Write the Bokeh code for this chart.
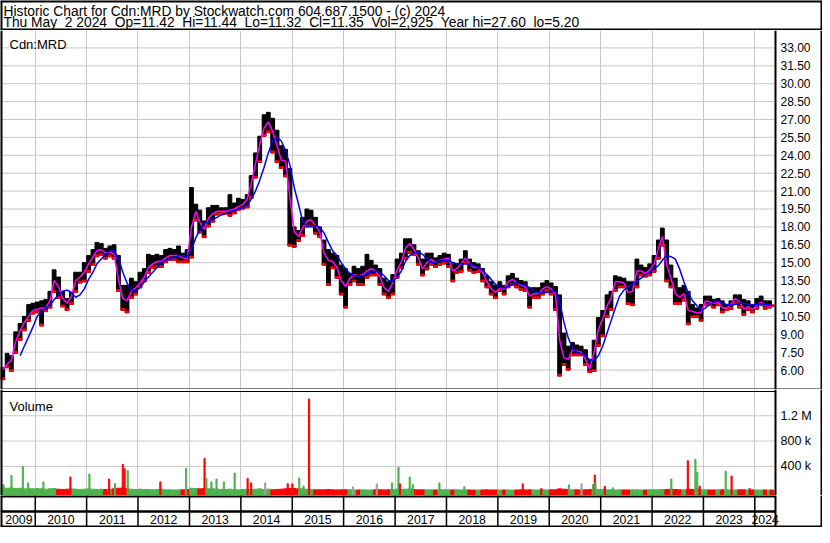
import pandas as pd
from bokeh.plotting import figure
from bokeh.models import Range1d, Span, Label, Grid, FixedTicker
from bokeh.layouts import column
from bokeh.embed import file_html
from bokeh.resources import INLINE
from bokeh.core.properties import value

# ---------------- data (monthly, May 2009 .. May 2024) ----------------
highs = [
    6.2, 7.4, 7.2, 9.2, 9.9, 10.5, 11.5, 11.6,
    11.7, 11.8, 11.9, 12.6, 14.4, 13.8, 12.6, 12.0, 12.5, 14.2, 14.2, 15.0,
    15.6, 16.1, 16.7, 16.6, 16.2, 16.4, 16.5, 15.6, 13.1, 13.1, 13.7, 13.4,
    14.2, 14.5, 15.7, 15.6, 15.7, 15.6, 16.1, 16.2, 16.1, 16.4, 15.8, 16.1,
    21.3, 19.9, 19.4, 18.5, 19.6, 19.8, 19.8, 19.6, 19.6, 20.7, 20.0, 20.4,
    20.3, 20.7, 22.3, 24.2, 25.6, 27.4, 27.6, 27.1, 26.1, 24.8, 24.5, 22.9,
    18.0, 17.7, 18.8, 19.5, 19.4, 18.8, 18.0, 16.9, 16.1, 15.8, 15.6, 14.8,
    14.5, 14.1, 14.7, 14.5, 14.7, 15.7, 15.2, 14.8, 14.5, 13.7, 13.4, 14.0,
    15.3, 15.8, 17.0, 17.0, 16.5, 16.0, 15.3, 15.8, 15.8, 15.4, 15.6, 15.8,
    15.7, 15.0, 14.9, 15.3, 16.0, 15.3, 15.0, 14.9, 14.5, 13.9, 13.4, 13.1,
    13.4, 13.1, 13.9, 14.1, 13.7, 13.5, 13.4, 12.9, 12.9, 12.9, 13.3, 13.5,
    13.3, 13.0, 12.3, 9.1, 8.0, 8.3, 8.1, 8.0, 7.7, 6.9, 8.5, 10.4,
    11.0, 12.3, 12.6, 13.9, 13.8, 13.7, 13.4, 13.4, 15.3, 14.8, 14.6, 14.9,
    15.6, 16.9, 17.9, 16.9, 14.8, 13.7, 12.9, 13.1, 12.6, 11.5, 11.2, 11.5,
    12.2, 12.2, 11.9, 12.0, 11.8, 11.5, 11.8, 12.3, 12.3, 11.9, 11.8, 11.5,
    12.0, 12.2, 11.8, 11.8, 11.44,
]
lows = [
    5.2, 6.2, 5.9, 7.4, 8.5, 9.3, 10.1, 10.7,
    10.8, 9.7, 10.9, 11.2, 12.5, 12.0, 11.3, 11.0, 11.5, 12.5, 13.3, 13.4,
    14.2, 14.8, 15.5, 15.6, 15.3, 15.5, 15.3, 12.6, 11.0, 10.8, 12.0, 12.3,
    12.9, 13.4, 14.1, 14.5, 14.6, 14.6, 15.0, 15.2, 15.2, 15.0, 15.0, 15.0,
    15.4, 18.5, 17.5, 17.1, 18.0, 18.4, 19.0, 19.1, 19.1, 18.9, 19.1, 19.4,
    19.5, 19.6, 20.4, 22.1, 23.4, 25.6, 25.9, 24.2, 23.4, 22.9, 22.2, 16.4,
    16.3, 16.8, 17.2, 18.0, 18.0, 17.4, 17.1, 14.8, 13.1, 14.5, 13.7, 12.3,
    11.2, 13.1, 13.4, 13.1, 13.1, 13.7, 13.9, 13.9, 13.1, 12.3, 12.0, 12.3,
    13.7, 14.5, 15.3, 15.8, 15.6, 14.8, 13.9, 14.4, 14.8, 14.6, 14.8, 14.9,
    14.6, 13.4, 14.1, 14.2, 14.9, 14.3, 14.1, 14.2, 13.4, 12.9, 12.3, 12.0,
    12.6, 12.3, 12.9, 13.1, 12.9, 12.7, 12.6, 11.2, 12.0, 12.0, 12.3, 12.6,
    12.3, 11.0, 5.5, 6.4, 6.0, 7.2, 7.2, 7.2, 6.4, 5.8, 5.9, 8.0,
    8.8, 10.4, 11.0, 12.6, 12.9, 12.9, 11.5, 11.4, 12.9, 13.9, 13.8, 13.9,
    14.2, 15.3, 16.4, 13.4, 12.9, 11.5, 11.5, 11.8, 9.8, 10.4, 10.4, 10.1,
    11.4, 11.4, 11.2, 11.4, 10.8, 11.0, 11.1, 11.5, 11.2, 10.6, 11.0, 10.8,
    11.1, 11.4, 11.1, 11.2, 11.32,
]
ma_short = [
    6.0, 6.5, 6.8, 8.4, 9.3, 10.0, 10.5, 11.0,
    11.1, 11.2, 11.2, 11.8, 13.5, 13.0, 12.0, 11.6, 12.2, 13.5, 13.8, 14.2,
    14.9, 15.5, 16.0, 16.1, 15.8, 15.9, 15.7, 13.6, 12.0, 11.8, 12.6, 12.9,
    13.3, 13.8, 14.6, 14.9, 15.1, 15.1, 15.4, 15.6, 15.6, 15.6, 15.4, 15.3,
    18.0, 19.3, 18.4, 17.8, 18.7, 19.1, 19.3, 19.3, 19.3, 19.4, 19.5, 19.7,
    19.9, 20.3, 21.6, 23.3, 24.9, 26.3, 26.8, 26.0, 24.8, 23.6, 23.5, 20.5,
    17.6, 17.2, 17.9, 18.5, 18.6, 18.1, 17.6, 15.8, 15.2, 15.1, 14.6, 13.5,
    13.0, 13.7, 14.0, 13.9, 14.0, 14.3, 14.5, 14.3, 13.8, 12.9, 12.6, 13.3,
    14.4, 15.1, 16.2, 16.6, 16.1, 15.4, 14.5, 15.0, 15.3, 15.0, 15.2, 15.3,
    15.4, 14.3, 14.5, 14.9, 15.4, 14.9, 14.6, 14.6, 14.2, 13.4, 12.8, 12.5,
    12.9, 12.8, 13.4, 13.6, 13.3, 13.1, 13.0, 12.2, 12.4, 12.4, 12.8, 13.0,
    12.8, 12.3, 8.5, 7.0, 6.9, 7.7, 7.6, 7.5, 6.9, 6.1, 7.5, 9.4,
    10.3, 11.4, 12.0, 13.4, 13.4, 13.3, 12.5, 12.6, 14.3, 14.3, 14.1, 14.4,
    14.9, 16.2, 17.2, 14.8, 13.7, 12.4, 12.1, 12.4, 11.0, 10.9, 10.8, 10.8,
    11.8, 11.7, 11.6, 11.7, 11.2, 11.2, 11.5, 12.0, 11.7, 11.1, 11.3, 11.1,
    11.4, 11.7, 11.4, 11.4, 11.38,
]
NA = float("nan")
ma_long = [
    NA, NA, NA, NA, 7.2, 8.0, 8.8, 9.6,
    10.5, 10.9, 11.2, 11.4, 11.9, 12.3, 12.6, 12.7, 12.5, 12.1, 12.3, 12.8,
    13.6, 14.2, 14.9, 15.3, 15.7, 16.0, 16.0, 15.4, 14.2, 13.3, 12.7, 12.6,
    12.9, 13.4, 13.8, 14.2, 14.6, 15.0, 15.2, 15.3, 15.4, 15.6, 15.6, 15.5,
    16.1, 17.1, 17.7, 18.3, 18.4, 18.6, 18.8, 19.0, 19.1, 19.3, 19.4, 19.5,
    19.6, 19.8, 20.3, 21.0, 21.9, 23.0, 24.2, 25.2, 25.5, 25.2, 24.4, 23.2,
    21.3, 19.9, 18.5, 18.0, 18.1, 18.1, 18.0, 17.5, 16.7, 16.0, 15.6, 15.0,
    14.5, 14.1, 13.9, 13.9, 13.9, 14.1, 14.2, 14.3, 14.2, 13.9, 13.5, 13.4,
    13.8, 14.3, 15.1, 15.6, 15.8, 15.9, 15.7, 15.3, 15.0, 15.0, 15.2, 15.2,
    15.2, 15.0, 14.9, 14.9, 14.9, 14.9, 14.75, 14.6, 14.35, 14.0, 13.6, 13.2,
    12.9, 12.9, 13.0, 13.2, 13.3, 13.2, 13.1, 12.9, 12.6, 12.5, 12.45, 12.5,
    12.6, 12.6, 11.8, 10.0, 8.7, 7.8, 7.5, 7.4, 7.2, 6.85, 6.8, 7.2,
    8.0, 9.1, 10.1, 11.2, 12.2, 12.7, 13.0, 13.2, 13.45, 13.7, 14.0, 14.2,
    14.5, 14.75, 15.2, 15.6, 15.5, 15.3, 14.5, 13.4, 12.45, 11.8, 11.4, 11.0,
    11.2, 11.5, 11.7, 11.8, 11.6, 11.5, 11.45, 11.5, 11.6, 11.6, 11.5, 11.45,
    11.5, 11.55, 11.5, 11.45, 11.4,
]
vol_base_k = [
    65, 55, 60, 50, 55, 45, 50, 45,
    50, 45, 40, 45, 50, 40, 35, 40, 45, 40, 35, 40,
    45, 40, 35, 40, 35, 40, 45, 55, 60, 50, 40, 35,
    40, 35, 35, 30, 35, 40, 30, 30, 28, 30, 30, 35,
    55, 50, 45, 50, 45, 45, 40, 35, 35, 40, 35, 30,
    35, 40, 35, 40, 45, 35, 40, 30, 35, 40, 45, 50,
    50, 45, 45, 40, 35, 30, 30, 30, 35, 30, 28, 30,
    30, 30, 28, 28, 30, 28, 28, 30, 30, 28, 30, 35,
    40, 35, 40, 45, 35, 30, 30, 30, 30, 28, 35, 30,
    30, 28, 30, 28, 30, 28, 25, 28, 28, 30, 28, 28,
    28, 28, 28, 25, 28, 30, 28, 30, 28, 28, 30, 28,
    30, 30, 45, 40, 35, 30, 30, 28, 30, 35, 40, 35,
    35, 30, 30, 28, 30, 28, 28, 30, 30, 28, 28, 30,
    30, 30, 35, 35, 40, 35, 30, 30, 40, 35, 40, 30,
    30, 28, 28, 30, 30, 30, 28, 28, 30, 30, 28, 28,
    28, 28, 28, 25, 25,
]
spike_dates = [
    "2009-05-20", "2009-07-16", "2009-10-05", "2009-11-12", "2010-02-28", "2010-09-08",
    "2011-01-21", "2011-06-10", "2011-07-22", "2011-09-15", "2011-09-28", "2011-10-20",
    "2012-06-08", "2012-12-08", "2013-04-18", "2013-05-01", "2013-06-06", "2013-07-12",
    "2013-09-02", "2013-11-18", "2014-02-18", "2014-03-15", "2014-06-23", "2014-11-30",
    "2015-01-02", "2015-02-20", "2015-03-22", "2015-05-01", "2016-03-08", "2016-08-24",
    "2016-12-10", "2017-01-25", "2017-02-05", "2017-04-15", "2017-05-08", "2017-11-12",
    "2018-05-08", "2019-06-27", "2019-11-06", "2020-05-20", "2020-08-18", "2020-11-07",
    "2020-11-20", "2020-11-25", "2021-01-30", "2021-03-28", "2022-05-18", "2022-09-12",
    "2022-11-05", "2022-11-18", "2022-12-05", "2023-06-08", "2023-07-20", "2023-11-25",
]
spike_vol_k = [
    113, 258, 397, 140, 155, 232,
    279, 201, 129, 433, 361, 335,
    155, 372, 526, 212, 155, 201,
    155, 294, 212, 140, 140, 124,
    124, 217, 88, 1466, 77, 124,
    140, 387, 124, 232, 113, 140,
    77, 124, 52, 108, 124, 113,
    263, 140, 88, 62, 201, 490,
    511, 310, 88, 325, 248, 52,
]
spike_dir = [
    "up", "up", "up", "up", "up", "down",
    "up", "down", "up", "down", "down", "up",
    "down", "up", "down", "up", "up", "up",
    "up", "up", "down", "down", "flat", "down",
    "down", "up", "up", "down", "flat", "flat",
    "up", "up", "down", "up", "up", "up",
    "up", "down", "down", "up", "flat", "up",
    "down", "up", "down", "up", "up", "down",
    "up", "up", "down", "up", "down", "down",
]
price_ticks = [6.0, 7.5, 9.0, 10.5, 12.0, 13.5, 15.0, 16.5, 18.0, 19.5,
               21.0, 22.5, 24.0, 25.5, 27.0, 28.5, 30.0, 31.5, 33.0]
price_tick_labels = ["%.2f" % t for t in price_ticks]
vol_ticks = [400000, 800000, 1200000]
vol_tick_labels = ["400 k", "800 k", "1.2 M"]
years = list(range(2009, 2025))
title_line1 = "Historic Chart for Cdn:MRD by Stockwatch.com 604.687.1500 - (c) 2024"
title_line2 = ("Thu May  2 2024  Op=11.42  Hi=11.44  Lo=11.32  Cl=11.35  "
               "Vol=2,925  Year hi=27.60  lo=5.20")

# ---------------- layout constants ----------------
def ms(d):
    return pd.Timestamp(d).value / 1e6

DAY = 86400000.0
W = 822
H_HDR, H_PRICE, H_VOL, H_STRIP = 30, 359, 106, 32
X_START, X_END = ms("2009-04-29"), ms("2025-04-26")
DATA_START, DATA_END = ms("2009-05-13"), ms("2024-05-27")
P_LO, P_HI = 4.37, 34.46
V_LO, V_HI = -60000.0, 1615000.0
FONT = "Liberation Sans"
GRID_C = "#c8c8c8"
RED, GREEN, GRAY = "#ff0000", "#4cb34c", "#a0a0a0"

month_x = [ms(d) for d in (pd.date_range("2009-05-01", periods=180, freq="MS")
                           + pd.Timedelta(days=14))] + [ms("2024-05-02")]
year_starts = [ms(f"{y}-01-01") for y in years[1:]]

xr = Range1d(X_START, X_END)


def base_fig(h, yr):
    f = figure(width=W, height=h, x_range=xr, y_range=yr, output_backend="svg",
               toolbar_location=None, x_axis_location=None, y_axis_location=None,
               min_border=0, outline_line_color=None,
               background_fill_color="white", border_fill_color="white")
    for g in f.select(type=Grid):
        g.visible = False
    return f


def vline(f, loc, w):
    f.add_layout(Span(location=loc, dimension="height", line_color="black", line_width=w))


def hline(f, loc, w):
    f.add_layout(Span(location=loc, dimension="width", line_color="black", line_width=w))


# keep the double spacing of the original header visible in SVG text
def keep_spaces(s):
    return s.replace("  ", " \u00a0")


# ---------------- header ----------------
hdr = figure(width=W, height=H_HDR, x_range=Range1d(0, W), y_range=Range1d(H_HDR, 0),
             output_backend="svg", toolbar_location=None, x_axis_location=None,
             y_axis_location=None, min_border=0, outline_line_color=None)
for g in hdr.select(type=Grid):
    g.visible = False
hdr.add_layout(Label(x=3, y=11.3, text=title_line1, text_font=FONT, text_font_size="13.8px",
                     text_baseline="alphabetic", text_color="black"))
hdr.add_layout(Label(x=3, y=21.6, text=keep_spaces(title_line2), text_font=FONT,
                     text_font_size="13.8px", text_baseline="alphabetic", text_color="black"))
vline(hdr, 0, 4); vline(hdr, W, 4); hline(hdr, 0, 4); hline(hdr, H_HDR, 4)

# ---------------- price panel ----------------
pp = base_fig(H_PRICE, Range1d(P_LO, P_HI))
pp.add_layout(Grid(dimension=0, ticker=FixedTicker(ticks=year_starts),
                   grid_line_color=GRID_C, grid_line_width=1))
pp.segment(x0=X_START, x1=DATA_END, y0=price_ticks, y1=price_ticks,
           line_color=GRID_C, line_width=1)
pp.vbar(x=month_x, width=27 * DAY, top=highs, bottom=lows, color="black")
pp.vbar(x=month_x, width=27 * DAY, top=[l + 0.15 for l in lows], bottom=lows, color=RED)
pp.line(month_x, ma_short, line_color="#ff00ff", line_width=1.5)
pp.line(month_x, ma_long, line_color="#0000ff", line_width=1.5)
pp.text(x=[DATA_END] * len(price_ticks), y=price_ticks, text=price_tick_labels, x_offset=5,
        text_font=value(FONT), text_font_size="12px", text_align="left",
        text_baseline="middle", text_color="black")
pp.add_layout(Label(x=X_START, y=P_HI - 14 * (P_HI - P_LO) / H_PRICE, x_offset=9,
                    text="Cdn:MRD", text_font=FONT, text_font_size="13px",
                    text_baseline="alphabetic", text_color="black"))
vline(pp, X_START, 4); vline(pp, X_END, 4); vline(pp, DATA_END, 2); hline(pp, P_LO, 2)

# ---------------- volume panel ----------------
vpp = (V_HI - V_LO) / H_VOL
vp = base_fig(H_VOL, Range1d(V_LO, V_HI))
vp.add_layout(Grid(dimension=0, ticker=FixedTicker(ticks=year_starts),
                   grid_line_color=GRID_C, grid_line_width=1))
vp.segment(x0=X_START, x1=DATA_END, y0=vol_ticks, y1=vol_ticks, line_color=GRID_C, line_width=1)
base_col = [GREEN if i == 0 or ma_short[i] >= ma_short[i - 1] else RED
            for i in range(len(ma_short))]
vp.vbar(x=month_x, width=27 * DAY, top=[v * 1000 for v in vol_base_k], bottom=V_LO,
        color=base_col)
dir_col = {"up": GREEN, "down": RED, "flat": GRAY}
vp.vbar(x=[ms(d) for d in spike_dates], width=8 * DAY, top=[v * 1000 for v in spike_vol_k],
        bottom=V_LO, color=[dir_col[d] for d in spike_dir])
vp.text(x=[DATA_END] * len(vol_ticks), y=vol_ticks, text=vol_tick_labels, x_offset=5,
        text_font=value(FONT), text_font_size="12.5px", text_align="left",
        text_baseline="middle", text_color="black")
vp.add_layout(Label(x=X_START, y=V_HI - 16.5 * vpp, x_offset=9, text="Volume",
                    text_font=FONT, text_font_size="13px", text_baseline="alphabetic",
                    text_color="black"))
vline(vp, X_START, 4); vline(vp, X_END, 4); vline(vp, DATA_END, 2)
vp.segment(x0=[X_START], x1=[DATA_END], y0=[V_HI - 2 * vpp], y1=[V_HI - 2 * vpp],
           line_color="black", line_width=1)

# ---------------- year strip ----------------
sp = base_fig(H_STRIP, Range1d(0, 2))
sp.segment(x0=[X_START, X_START], x1=[DATA_END, DATA_END], y0=[2, 1], y1=[2, 1],
           line_color="black", line_width=[4, 2.5])
sp.segment(x0=year_starts, x1=year_starts, y0=0, y1=2, line_color="black", line_width=1.5)
centers = []
for y in years:
    a = max(ms(f"{y}-01-01"), DATA_START)
    b = min(ms(f"{y + 1}-01-01"), DATA_END)
    centers.append((a + b) / 2)
sp.text(x=centers, y=[0.5] * len(years), text=[str(y) for y in years],
        text_font=value(FONT), text_font_size="12.3px", text_align="center",
        text_baseline="middle", text_color="black")
vline(sp, X_START, 4); vline(sp, X_END, 4); vline(sp, DATA_END, 2); hline(sp, 0, 4)

layout = column(hdr, pp, vp, sp, spacing=0)
open("out.html", "w").write(file_html(layout, INLINE))
